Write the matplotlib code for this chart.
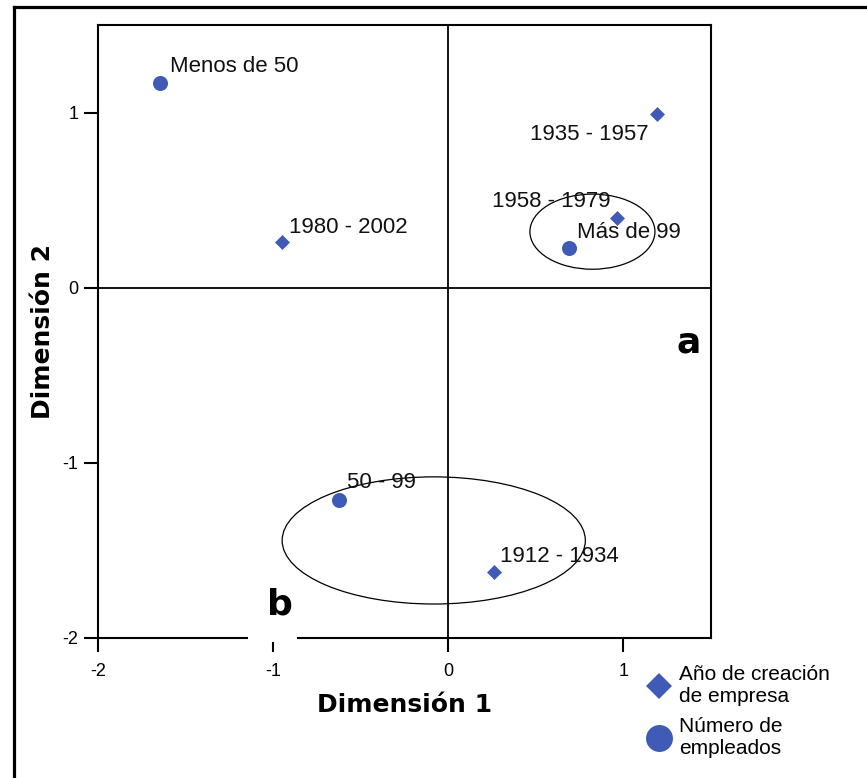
import matplotlib
matplotlib.use("Agg")
import matplotlib.pyplot as plt
from matplotlib.lines import Line2D
from matplotlib.patches import Ellipse, Rectangle

plt.rcParams['font.family'] = ['Liberation Sans', 'DejaVu Sans']

# Categories and coordinates (Dimensión 1, Dimensión 2)
year_labels = ["1912 - 1934", "1935 - 1957", "1958 - 1979", "1980 - 2002"]
year_dim1 = [0.263, 1.189, 0.966, -0.949]
year_dim2 = [-1.623, 0.989, 0.400, 0.263]

size_labels = ["Menos de 50", "50 - 99", "Más de 99"]
size_dim1 = [-1.646, -0.623, 0.691]
size_dim2 = [1.166, -1.211, 0.229]

legend_labels = ["Año de creación\nde empresa", "Número de\nempleados"]
x_ticks = [-2, -1, 0, 1]
y_ticks = [-2, -1, 0, 1]

# Highlighted groupings: (center x, center y, width, height)
groups = [(0.823, 0.320, 0.714, 0.429), (-0.083, -1.443, 1.731, 0.726)]

# label offsets in pixels (dx, dy, horizontal alignment)
year_offsets = [(6, 10, 'left'), (-8, -26, 'right'), (-7, 11, 'right'), (7, 9, 'left')]
size_offsets = [(10, 11, 'left'), (8, 12, 'left'), (8, 10, 'left')]

blue = '#3F5BB6'

fig = plt.figure(figsize=(8.67, 7.78), dpi=100)
ax = fig.add_axes([98 / 867, 140 / 778, 613 / 867, 613 / 778])
ax.set_xlim(-2, 1.5)
ax.set_ylim(-2, 1.5)

ax.axhline(0, color='black', lw=1.3, zorder=1)
ax.axvline(0, color='black', lw=1.3, zorder=1)

ax.scatter(year_dim1, year_dim2, marker='D', s=58, color=blue, zorder=3, linewidths=0)
ax.scatter(size_dim1, size_dim2, marker='o', s=117, color=blue, zorder=3, linewidths=0)

for lab, x, y, (dx, dy, ha) in zip(year_labels, year_dim1, year_dim2, year_offsets):
    ax.annotate(lab, (x, y), xytext=(dx, dy), textcoords='offset pixels',
                ha=ha, va='baseline', fontsize=16, color='#111111', zorder=4)
for lab, x, y, (dx, dy, ha) in zip(size_labels, size_dim1, size_dim2, size_offsets):
    ax.annotate(lab, (x, y), xytext=(dx, dy), textcoords='offset pixels',
                ha=ha, va='baseline', fontsize=16, color='#111111', zorder=4)

for cx, cy, w, h in groups:
    ax.add_patch(Ellipse((cx, cy), w, h, fill=False, edgecolor='black', lw=0.9, zorder=2))

for sp in ax.spines.values():
    sp.set_linewidth(1.5)
ax.set_xticks(x_ticks)
ax.set_yticks(y_ticks)
ax.set_xticklabels([str(t) for t in x_ticks])
ax.set_yticklabels([str(t) for t in y_ticks])
ax.tick_params(axis='both', direction='out', length=10, width=1.5, labelsize=13)
ax.tick_params(axis='x', pad=8)
ax.tick_params(axis='y', pad=4)

ax.set_xlabel("Dimensión 1", fontsize=18, fontweight='bold', family=['DejaVu Sans'])
ax.set_ylabel("Dimensión 2", fontsize=18, fontweight='bold', family=['DejaVu Sans'])
ax.xaxis.set_label_coords(0.5, -0.09)
ax.yaxis.set_label_coords(-0.0705, 0.5)

# panel letters
ax.add_patch(Rectangle((0.2447, -0.006), 0.08, 0.095, transform=ax.transAxes,
                       facecolor='white', edgecolor='none', clip_on=False, zorder=5))
ax.text(-0.96, -1.81, "b", fontsize=26, fontweight='heavy', family=['DejaVu Sans'],
        ha='center', va='center', zorder=6, clip_on=False)
ax.text(1.371, -0.314, "a", fontsize=26, fontweight='heavy', family=['DejaVu Sans'],
        ha='center', va='center', zorder=6)

handles = [Line2D([], [], ls='none', marker='D', ms=13.7, color=blue, mew=0),
           Line2D([], [], ls='none', marker='o', ms=19.4, color=blue, mew=0)]
fig.legend(handles, legend_labels, loc='upper left', bbox_to_anchor=(649 / 867, 1 - 665 / 778),
           frameon=False, fontsize=15, handlelength=1.0, handletextpad=0.45,
           labelspacing=0.55, borderpad=0, borderaxespad=0)

# outer frame (top and left edges)
fig.add_artist(Line2D([14 / 867, 1.0], [1 - 6.5 / 778, 1 - 6.5 / 778], transform=fig.transFigure,
                      color='black', lw=2.3))
fig.add_artist(Line2D([14 / 867, 14 / 867], [0, 1 - 6.5 / 778], transform=fig.transFigure,
                      color='black', lw=2.3))

fig.savefig("out.png", dpi=100)
